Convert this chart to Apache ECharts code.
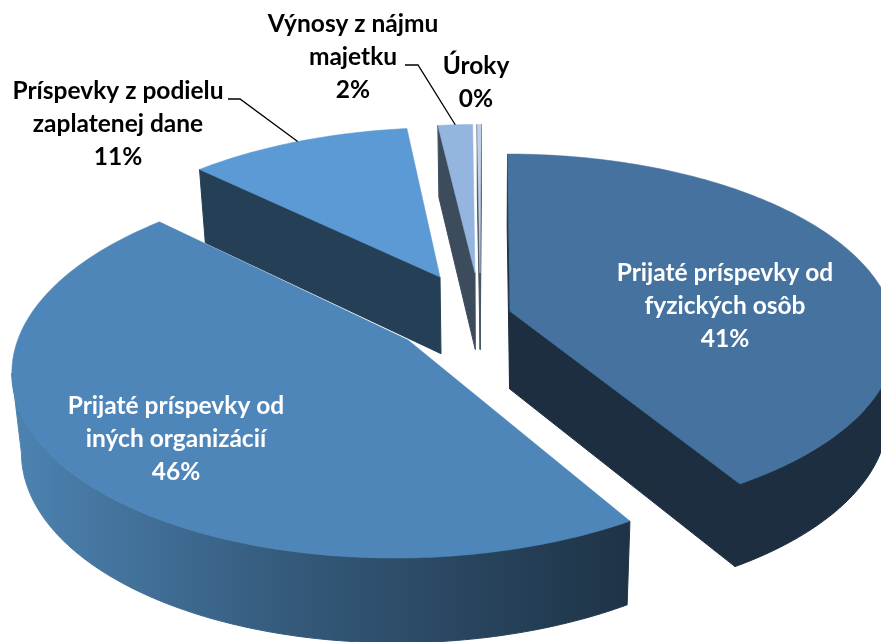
<!DOCTYPE html>
<html>
<head>
<meta charset="utf-8">
<style>
  html, body { margin: 0; padding: 0; background: #fff; }
  #chart { width: 881px; height: 642px; }
</style>
<script src="https://cdn.jsdelivr.net/npm/echarts@6/dist/echarts.min.js"></script>
</head>
<body>
<div id="chart"></div>
<script>
const names = [
  'Prijaté príspevky od\nfyzických osôb',
  'Prijaté príspevky od\niných organizácií',
  'Príspevky z podielu\nzaplatenej dane',
  'Výnosy z nájmu\nmajetku',
  'Úroky'
];
const values = [41.2, 46, 10.9, 1.7, 0.2];

// pie look
const topColors = ['#45729f', '#4e86ba', '#5b9ad5', '#94b5dd', '#bdd1ea'];
const wallColors = ['#1c2e40', '#20364b', '#243f56', '#3d4c5d', '#4a5666'];
const labelColors = ['#fff', '#fff', '#000', '#000', '#000'];
// how far each slice is pulled out, in pie radii
const explode = [[0.0523, -0.06], [-0.21, 0.0976], [-0.1345, -0.256], [-0.0405, -0.2798], [-0.027, -0.2798]];
// label centres and the elbow of the leader line
const labelPos = [[725, 306], [176, 439], [118, 124], [353, 57], [476, 83]];
const leaders = [null, null, [[228, 99], [240, 99]], [[405, 65], [418, 65]], null];
// back slices first
const drawOrder = [2, 3, 4, 0, 1];

const cx = 490, cy = 322, radX = 385, radY = 182, persp = 0.14, depth = 78, shrink = 0.98;
const total = values.reduce((a, b) => a + b, 0);

function project(i, deg) {
  const a = deg * Math.PI / 180;
  const X = (deg === null ? 0 : Math.sin(a)) + explode[i][0];
  const Y = (deg === null ? 0 : -Math.cos(a)) + explode[i][1];
  const w = 1 / (1 - persp * Y);
  return [cx + radX * X * w, cy + radY * Y * w, w];
}
function down(p) {
  return [cx + (p[0] - cx) * shrink, p[1] + depth * Math.sqrt(p[2])];
}
function cross(a, b, c) {
  return (b[0] - a[0]) * (c[1] - a[1]) - (b[1] - a[1]) * (c[0] - a[0]);
}
function poly(points, fill, z, width) {
  return {
    type: 'polygon',
    z2: z,
    shape: { points: points.map(p => [p[0], p[1]]) },
    style: { fill: fill, stroke: fill, lineWidth: width }
  };
}

function renderSlice(params, api) {
  const i = api.value(0);
  let start = 0;
  for (let k = 0; k < i; k++) start += values[k] / total * 360;
  const end = start + values[i] / total * 360;

  const apex = project(i, null);
  const arc = [];
  const steps = Math.max(4, Math.ceil(end - start));
  for (let k = 0; k <= steps; k++) arc.push(project(i, start + (end - start) * k / steps));
  const first = arc[0], last = arc[arc.length - 1];
  const kids = [];

  // radial walls, only the ones that face us
  if (cross(apex, first, down(apex)) < 0) {
    kids.push(poly([apex, first, down(first), down(apex)], wallColors[i], 1, 1));
  }
  if (cross(apex, last, down(apex)) > 0) {
    kids.push(poly([apex, last, down(last), down(apex)], wallColors[i], 1, 1));
  }

  // outer wall: the part of the rim running right to left on screen
  const rim = arc.filter((p, k) => (k > 0 && p[0] < arc[k - 1][0]) || (k < arc.length - 1 && arc[k + 1][0] < p[0]));
  if (rim.length > 1) {
    let fill = wallColors[i];
    if (i === 1) {
      fill = new echarts.graphic.LinearGradient(20, 0, 630, 0, [
        { offset: 0, color: '#4c82b0' },
        { offset: 0.45, color: '#34597a' },
        { offset: 1, color: '#1e3346' }
      ], true);
    }
    kids.push(poly(rim.concat(rim.map(down).reverse()), fill, 2, 1));
  }

  kids.push(poly([apex].concat(arc), topColors[i], 3, 0.5));

  const pct = Math.round(values[i] / total * 100) + '%';
  kids.push({
    type: 'text',
    z2: 10,
    style: {
      x: labelPos[i][0],
      y: labelPos[i][1],
      text: names[i] + '\n' + pct,
      fill: labelColors[i],
      font: 'bold 24.5px Lato, sans-serif',
      lineHeight: 33,
      align: 'center',
      verticalAlign: 'middle'
    }
  });

  if (leaders[i]) {
    const tip = project(i, (start + end) / 2);
    kids.push({
      type: 'polyline',
      z2: 9,
      shape: { points: leaders[i].concat([[tip[0], tip[1]]]) },
      style: { stroke: '#000', lineWidth: 1.3, fill: null }
    });
  }
  return { type: 'group', children: kids };
}

const chart = echarts.init(document.getElementById('chart'), null, { renderer: 'canvas' });
chart.setOption({
  animation: false,
  backgroundColor: '#fff',
  series: [{
    type: 'custom',
    coordinateSystem: 'none',
    clip: false,
    renderItem: renderSlice,
    data: drawOrder.map(i => [i])
  }]
});
</script>
</body>
</html>
